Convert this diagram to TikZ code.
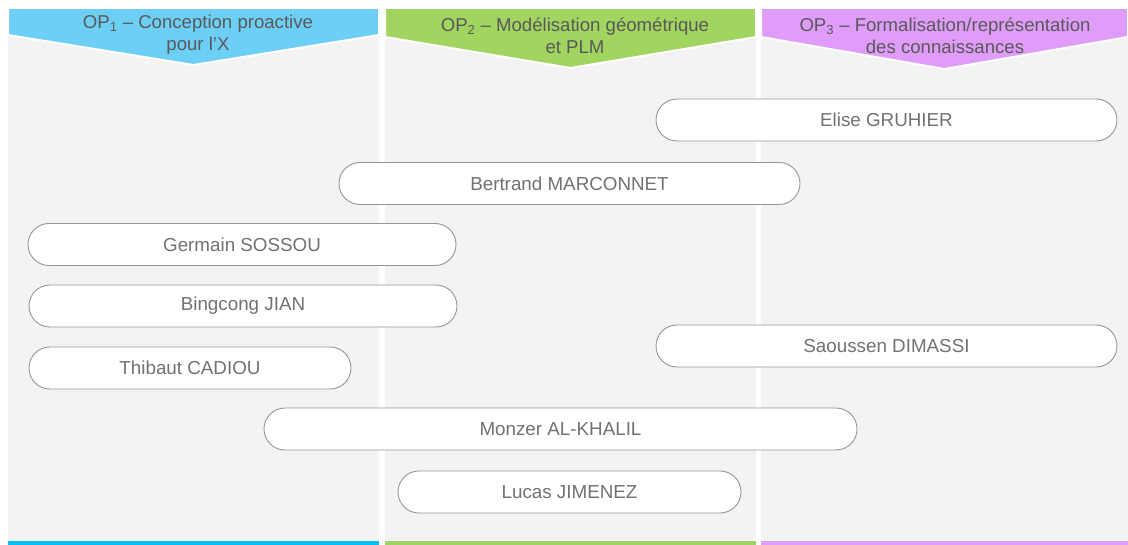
\documentclass[tikz,border=0pt]{standalone}
\usepackage{fontspec}
\setmainfont{Liberation Sans}
\usetikzlibrary{calc}
\definecolor{fond}{RGB}{243,243,243}
\definecolor{bleu}{RGB}{109,207,246}
\definecolor{bleu1}{RGB}{0,191,243}
\definecolor{vert}{RGB}{161,213,96}
\definecolor{vert1}{RGB}{157,213,98}
\definecolor{mauve}{RGB}{223,156,248}
\definecolor{mauve1}{RGB}{224,156,250}
\definecolor{texte}{RGB}{89,89,89}
\definecolor{bord}{RGB}{150,150,150}
\tikzset{
  pill/.style={draw=bord,line width=0.9pt,fill=white,rounded corners=21pt,minimum height=42pt,
    inner sep=0pt,text=texte!85,font=\fontsize{18.8}{22}\selectfont},
  titre/.style={align=center,text=texte,font=\fontsize{18.6}{22}\selectfont,inner sep=0pt}
}

\begin{document}
\begin{tikzpicture}[x=1pt,y=-1pt]
\useasboundingbox (0,0) rectangle (1128,545);
%
% path: columns
\fill[fond] (8,8) rectangle (379,540);
\fill[fond] (385,8) rectangle (756,540);
\fill[fond] (761,8) rectangle (1128,540);
%
% path: headers
\filldraw[fill=bleu,draw=white,line width=2pt] (8,8) -- (379,8) -- (379,35) -- (193.5,65) -- (8,35) -- cycle;
\filldraw[fill=vert,draw=white,line width=2pt] (385,8) -- (756,8) -- (756,37) -- (570.5,68) -- (385,37) -- cycle;
\filldraw[fill=mauve,draw=white,line width=2pt] (761,8) -- (1128,8) -- (1128,37) -- (944.5,69) -- (761,37) -- cycle;

\node[titre] (op1) at (198,35) {OP\textsubscript{1} – Conception proactive\\pour l’X};
\node[titre] (op2) at (575,36) {OP\textsubscript{2} – Modélisation géométrique\\et PLM};
\node[titre] (op3) at (945,36) {OP\textsubscript{3} – Formalisation/représentation\\des connaissances};
%
% path: bottom lines
\fill[bleu1] (8,541) rectangle (379,545);
\fill[vert1] (385,541) rectangle (756,545);
\fill[mauve1] (761,541) rectangle (1128,545);
%
% path: names
\node[pill,minimum width=461pt] (elise) at (886.5,120) {Elise GRUHIER};
\node[pill,minimum width=461pt] (bertrand) at (569.5,183.5) {Bertrand MARCONNET};
\node[pill,minimum width=428pt] (germain) at (242,244.5) {Germain SOSSOU};
\node[pill,minimum width=428pt] (bingcong) at (243,306) {Bingcong JIAN};
\node[pill,minimum width=461pt] (saoussen) at (886.5,346) {Saoussen DIMASSI};
\node[pill,minimum width=322pt] (thibaut) at (190,368) {Thibaut CADIOU};
\node[pill,minimum width=593pt] (monzer) at (560.5,429) {Monzer AL-KHALIL};
\node[pill,minimum width=343pt] (lucas) at (569.5,492) {Lucas JIMENEZ};

\end{tikzpicture}
\end{document}
